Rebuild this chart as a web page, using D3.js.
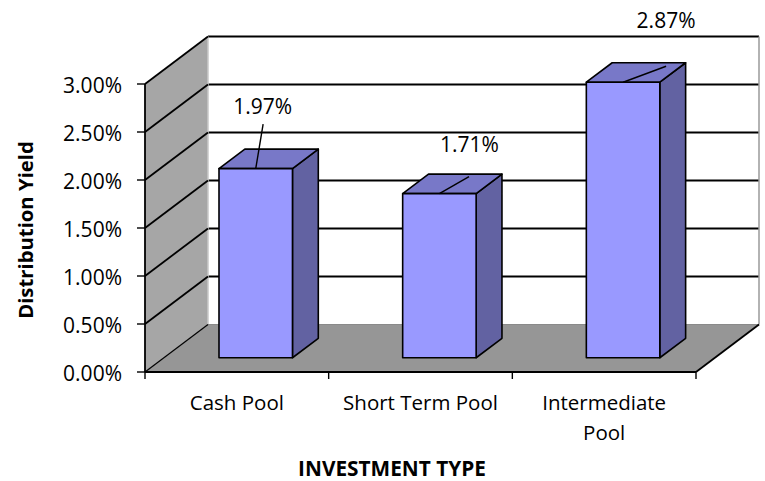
<!DOCTYPE html>
<html><head><meta charset="utf-8">
<script src="https://cdn.jsdelivr.net/npm/d3@7"></script>
<style>body{margin:0;background:#fff}svg{display:block}text{font-family:"Open Sans",sans-serif;fill:#000}</style>
</head><body><svg id="c" width="765" height="481"></svg>
<script>
const categories = ["Cash Pool", "Short Term Pool", "Intermediate Pool"];
const categoryLines = [["Cash Pool"], ["Short Term Pool"], ["Intermediate", "Pool"]];
const yields = [1.97, 1.71, 2.87];
const valueLabels = ["1.97%", "1.71%", "2.87%"];
const yTicks = [0, 0.5, 1, 1.5, 2, 2.5, 3];
const yTickLabels = ["0.00%", "0.50%", "1.00%", "1.50%", "2.00%", "2.50%", "3.00%"];
const yTitle = "Distribution Yield";
const xTitle = "INVESTMENT TYPE";

// ---- layout (not data) ----
const DX = 63, DY = -47.5;          // depth projection
const Z0 = 0.3, Z1 = 0.71;          // bar depth span
const labelOffsets = [[7, -55], [30, -41.5], [43, -54.5]];
const leaderOffsets = [[7.4, -44.4], [29.6, -17], [43, -16]];

const svg = d3.select("#c");
const x = d3.scaleBand().domain(categories).range([145, 696]).padding(0);
const y = d3.scaleLinear().domain([0, 3]).range([372, 84]);
const P = (px, v, z) => [px + z * DX, y(v) + z * DY];
const poly = pts => "M" + pts.map(p => p.join(",")).join("L") + "Z";
const x0 = x.range()[0], x1 = x.range()[1];
const vMax = y.domain()[1];

// back wall
svg.append("path").attr("d", poly([P(x0, 0, 1), P(x1, 0, 1), P(x1, vMax, 1), P(x0, vMax, 1)]))
  .attr("fill", "#fff").attr("stroke", "none");
// back wall gridlines
yTicks.forEach(v => {
  const a = P(x0, v, 1), b = P(x1, v, 1);
  svg.append("line").attr("x1", a[0]).attr("y1", a[1]).attr("x2", b[0]).attr("y2", b[1])
    .attr("stroke", v === 0 ? "#8c8c8c" : "#000").attr("stroke-width", v === 0 ? 1.2 : 1.8);
});
// back wall right edge
{
  const a = P(x1, 0, 1), b = P(x1, vMax, 1);
  svg.append("line").attr("x1", a[0]).attr("y1", a[1]).attr("x2", b[0]).attr("y2", b[1])
    .attr("stroke", "#9a9a9a").attr("stroke-width", 1.5);
}
// left wall
svg.append("path").attr("d", poly([P(x0, 0, 0), P(x0, 0, 1), P(x0, vMax, 1), P(x0, vMax, 0)]))
  .attr("fill", "#a6a6a6");
{
  const a = P(x0, 0, 1), b = P(x0, vMax, 1);
  svg.append("line").attr("x1", a[0]).attr("y1", a[1]).attr("x2", b[0]).attr("y2", b[1])
    .attr("stroke", "#c8c8c8").attr("stroke-width", 1.5);
}
// floor
svg.append("path").attr("d", poly([P(x0, 0, 0), P(x1, 0, 0), P(x1, 0, 1), P(x0, 0, 1)]))
  .attr("fill", "#969696");
{
  const a = P(x0, 0, 1), b = P(x1, 0, 1);
  svg.append("line").attr("x1", a[0]).attr("y1", a[1]).attr("x2", b[0]).attr("y2", b[1])
    .attr("stroke", "#8a8a8a").attr("stroke-width", 1);
}
// left wall diagonals
yTicks.forEach(v => {
  const a = P(x0, v, 0), b = P(x0, v, 1);
  svg.append("line").attr("x1", a[0]).attr("y1", a[1]).attr("x2", b[0]).attr("y2", b[1])
    .attr("stroke", "#000").attr("stroke-width", v === 0 ? 1.2 : 1.8);
});
// floor right edge
{
  const a = P(x1, 0, 0), b = P(x1, 0, 1);
  svg.append("line").attr("x1", a[0]).attr("y1", a[1]).attr("x2", b[0]).attr("y2", b[1])
    .attr("stroke", "#000").attr("stroke-width", 1.8);
}

// bars
const bw = x.bandwidth() * 0.2;
categories.forEach((c, i) => {
  const v = yields[i];
  const cx = x(c) + x.bandwidth() / 2;
  const g = svg.append("g").attr("stroke", "#000").attr("stroke-width", 1.6).attr("stroke-linejoin", "round");
  g.append("path").attr("d", poly([P(cx + bw, 0, Z0), P(cx + bw, 0, Z1), P(cx + bw, v, Z1), P(cx + bw, v, Z0)]))
    .attr("fill", "#6262a2");
  g.append("path").attr("d", poly([P(cx - bw, v, Z0), P(cx + bw, v, Z0), P(cx + bw, v, Z1), P(cx - bw, v, Z1)]))
    .attr("fill", "#7878c8");
  g.append("path").attr("d", poly([P(cx - bw, 0, Z0), P(cx + bw, 0, Z0), P(cx + bw, v, Z0), P(cx - bw, v, Z0)]))
    .attr("fill", "#9999ff");
  // value label + leader
  const top = P(cx, v, Z0);
  const lo = labelOffsets[i], ld = leaderOffsets[i];
  svg.append("line").attr("x1", top[0]).attr("y1", top[1]).attr("x2", top[0] + ld[0]).attr("y2", top[1] + ld[1])
    .attr("stroke", "#000").attr("stroke-width", 1.4);
  svg.append("text").attr("x", top[0] + lo[0]).attr("y", top[1] + lo[1])
    .attr("text-anchor", "middle").attr("font-size", 21).text(valueLabels[i]);
});

// y axis
svg.append("line").attr("x1", x0).attr("y1", y(0)).attr("x2", x0).attr("y2", y(vMax))
  .attr("stroke", "#000").attr("stroke-width", 1.8);
yTicks.forEach((v, i) => {
  svg.append("line").attr("x1", x0 - 8).attr("x2", x0).attr("y1", y(v)).attr("y2", y(v))
    .attr("stroke", "#000").attr("stroke-width", 1.4);
  svg.append("text").attr("x", 122).attr("y", y(v) + 8.5).attr("text-anchor", "end")
    .attr("font-size", 21).text(yTickLabels[i]);
});
// x axis
svg.append("line").attr("x1", x0).attr("x2", x1).attr("y1", y(0)).attr("y2", y(0))
  .attr("stroke", "#000").attr("stroke-width", 1.8);
[x0, ...categories.map(c => x(c) + x.bandwidth())].forEach(px => {
  svg.append("line").attr("x1", px).attr("x2", px).attr("y1", y(0)).attr("y2", y(0) + 7)
    .attr("stroke", "#000").attr("stroke-width", 1.4);
});
categories.forEach((c, i) => {
  const t = svg.append("text").attr("x", x(c) + x.bandwidth() / 2).attr("y", 410)
    .attr("text-anchor", "middle").attr("font-size", 20.5);
  categoryLines[i].forEach((ln, j) => t.append("tspan").attr("x", x(c) + x.bandwidth() / 2)
    .attr("dy", j === 0 ? 0 : 29.5).text(ln));
});
// titles
svg.append("text").attr("x", 392).attr("y", 475.5).attr("text-anchor", "middle")
  .attr("font-size", 20.8).attr("font-weight", "bold").text(xTitle);
svg.append("text").attr("transform", "translate(33,230) rotate(-90)").attr("text-anchor", "middle")
  .attr("font-size", 20.3).attr("font-weight", "bold").text(yTitle);
</script></body></html>
